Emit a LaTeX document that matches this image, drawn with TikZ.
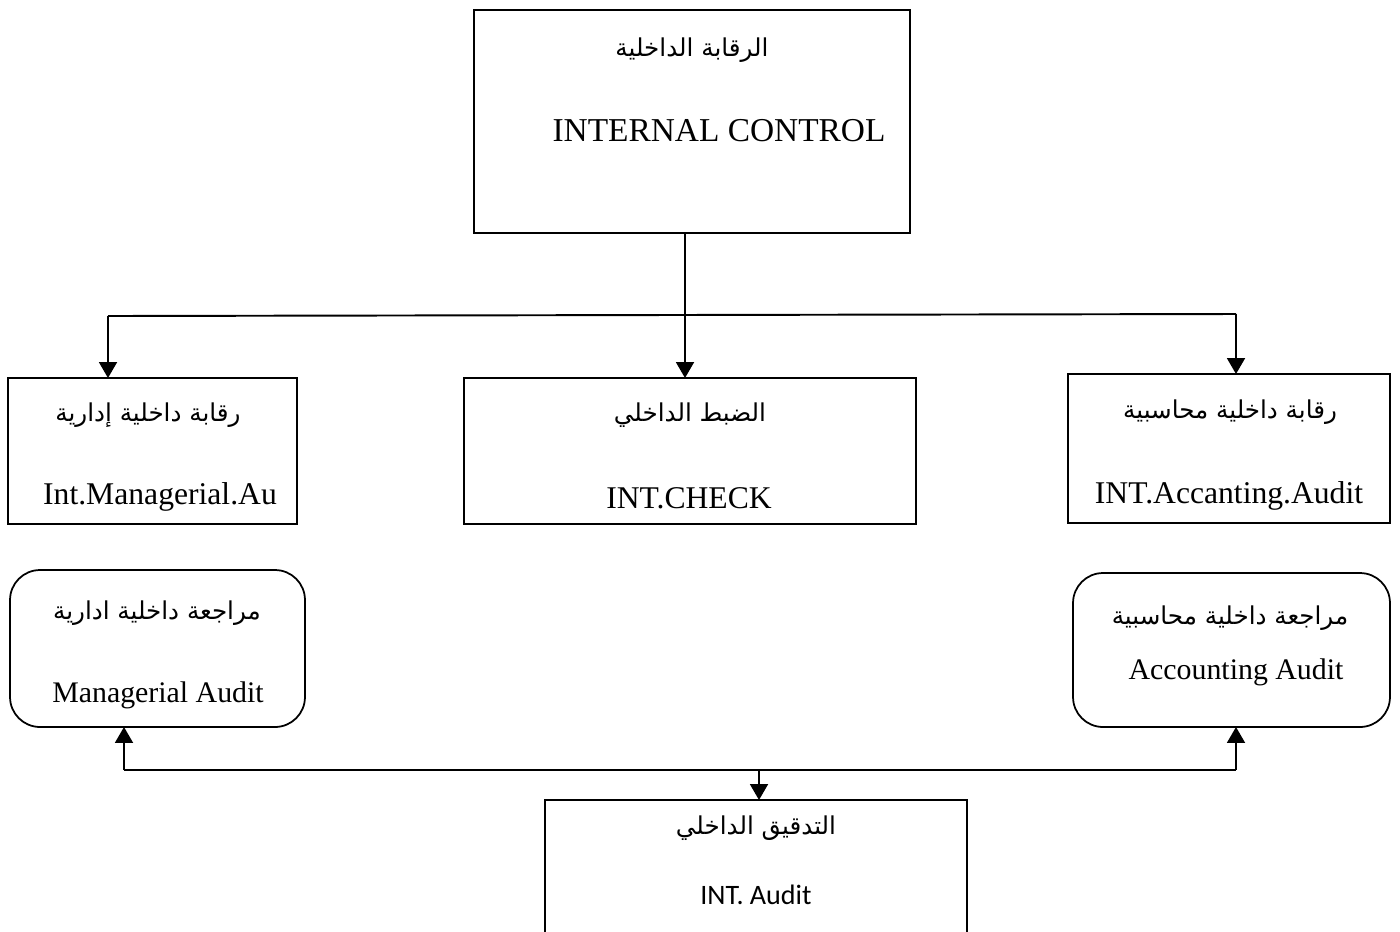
\documentclass[tikz,border=0pt]{standalone}
\usepackage{fontspec}
\usepackage{tikz}
\usetikzlibrary{arrows.meta}
\setmainfont{Liberation Serif}
\newfontfamily\arabicfont[Script=Arabic]{DejaVu Sans}
\newfontfamily\calfont{Carlito}
\TeXXeTstate=1

\tikzset{
    box/.style={draw, line width=1pt, inner sep=0pt, outer sep=0pt},
    roundbox/.style={box, rounded corners=0.6cm},
    artext/.style={font=\arabicfont\fontsize{14}{16}\selectfont},
    entext/.style={font=\fontsize{18}{20}\selectfont},
    arr/.style={line width=1.1pt, -{Triangle[length=0.32cm,width=0.36cm]}}
}

\begin{document}
\begin{tikzpicture}[x=0.02cm, y=-0.02cm]
    \useasboundingbox (0,0) rectangle (1400,931);
    \clip (0,0) rectangle (1400,931);
    % boxes
    \node[box, minimum width=8.72cm, minimum height=4.46cm] (ctrl) at (692,121.5) {};
    \node[box, minimum width=5.78cm, minimum height=2.92cm] (mgr) at (152.5,451) {};
    \node[box, minimum width=9.04cm, minimum height=2.92cm] (check) at (690,451) {};
    \node[box, minimum width=6.44cm, minimum height=2.98cm] (acct) at (1229,448.5) {};
    \node[roundbox, minimum width=5.9cm, minimum height=3.14cm] (mrev) at (157.5,648.5) {};
    \node[roundbox, minimum width=6.34cm, minimum height=3.08cm] (arev) at (1231.5,650) {};
    \node[box, minimum width=8.44cm, minimum height=3.2cm] (audit) at (756,880) {};
    % texts
    \node[artext] (ctrlar) at (692,50) {\beginR الرقابة الداخلية\endR};
    \node[entext, font=\fontsize{19}{21}\selectfont] (ctrlen) at (719,131) {INTERNAL CONTROL};
    \node[artext] (mgrar) at (148,415) {\beginR رقابة داخلية إدارية\endR};
    \node[entext] (mgren) at (160,497) {Int.Managerial.Au};
    \node[artext] (checkar) at (690,415) {\beginR الضبط الداخلي\endR};
    \node[entext] (checken) at (689,498) {INT.CHECK};
    \node[artext] (acctar) at (1230,412) {\beginR رقابة داخلية محاسبية\endR};
    \node[entext] (accten) at (1229,496) {INT.Accanting.Audit};
    \node[artext] (mrevar) at (157,613) {\beginR مراجعة داخلية ادارية\endR};
    \node[entext, font=\fontsize{17}{19}\selectfont] (mreven) at (158,695) {Managerial Audit};
    \node[artext] (arevar) at (1230,618) {\beginR مراجعة داخلية محاسبية\endR};
    \node[entext, font=\fontsize{17}{19}\selectfont] (areven) at (1236,672) {Accounting Audit};
    \node[artext] (auditar) at (756,828) {\beginR التدقيق الداخلي\endR};
    \node[font=\calfont\fontsize{16}{18}\selectfont] (auditen) at (756,895) {INT. Audit};
    % connectors
    \coordinate (topL) at (108,316);
    \coordinate (topR) at (1236,314);
    \coordinate (stem) at (685,315);
    \coordinate (botL) at (124,770);
    \coordinate (botR) at (1236,770);
    \coordinate (drop) at (759,770);
    \draw[arr] (ctrl.south -| stem) -- (check.north -| stem);
    \draw[line width=1.1pt] (topL) -- (topR);
    \draw[arr] (topL) -- (topL |- mgr.north);
    \draw[arr] (topR) -- (topR |- acct.north);
    \draw[line width=1.1pt] (botL) -- (botR);
    \draw[arr] (botL) -- (botL |- mrev.south);
    \draw[arr] (botR) -- (botR |- arev.south);
    \draw[arr] (drop) -- (drop |- audit.north);
\end{tikzpicture}
\end{document}
